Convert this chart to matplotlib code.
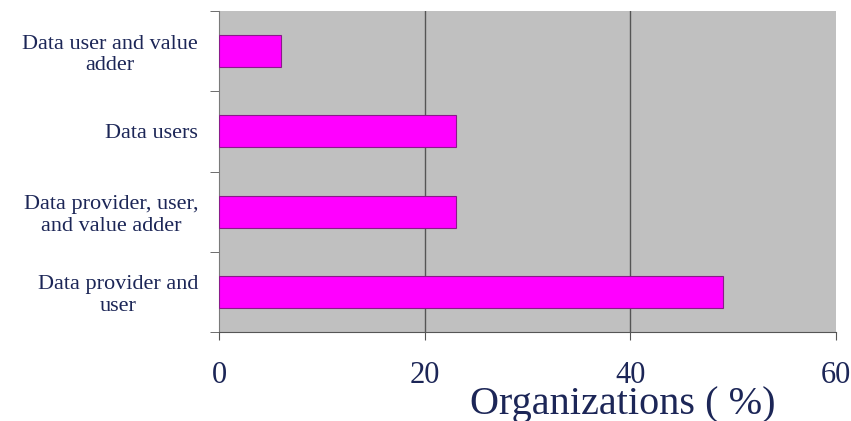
import matplotlib
matplotlib.use("Agg")
import matplotlib.pyplot as plt
import numpy as np

# organisation roles, listed top to bottom
roles = ["Data user and value\nadder",
         "Data users",
         "Data provider, user,\nand value adder",
         "Data provider and\nuser"]
shares = [6, 23, 23, 49]
x_ticks = [0, 20, 40, 60]

text_color = "#1c2657"
plt.rcParams["font.family"] = ["Liberation Serif", "DejaVu Serif"]

fig = plt.figure(figsize=(8.51, 4.21), dpi=100)
ax = fig.add_axes([219 / 851, 89 / 421, 617 / 851, 321 / 421])
ax.set_facecolor("#c0c0c0")

y = np.arange(len(roles))[::-1]
ax.barh(y, shares, height=0.4, color="#ff00ff", edgecolor="#8a1a8a", linewidth=0.8, zorder=3)

ax.set_xlim(0, 60)
ax.set_ylim(-0.5, len(roles) - 0.5)

# category names sit at bar centres, tick marks on the band boundaries
ax.set_yticks(y)
ax.set_yticklabels(roles, fontsize=16, color=text_color, ha="right",
                   multialignment="center", linespacing=1.2)
ax.tick_params(axis="y", which="major", length=0, pad=15)
ax.set_yticks(np.arange(len(roles) + 1) - 0.5, minor=True)
ax.tick_params(axis="y", which="minor", length=6.5, color="#555555", direction="out")

ax.set_xticks(x_ticks)
ax.set_xticklabels([str(t) for t in x_ticks], fontsize=22, color=text_color)
ax.tick_params(axis="x", length=6, color="#555555", direction="out", pad=15)

ax.grid(axis="x", color="#555555", linewidth=1.0, zorder=1)
grid = ax.xaxis.get_gridlines()
grid[0].set_visible(False)
grid[-1].set_visible(False)

for side in ["top", "right"]:
    ax.spines[side].set_visible(False)
ax.spines["left"].set_color("#7a7a7a")
ax.spines["bottom"].set_color("#555555")

ax.set_xlabel("Organizations ( %)", fontsize=29, color=text_color)
ax.xaxis.set_label_coords(0.655, -0.167)

fig.savefig("out.png", dpi=100)
